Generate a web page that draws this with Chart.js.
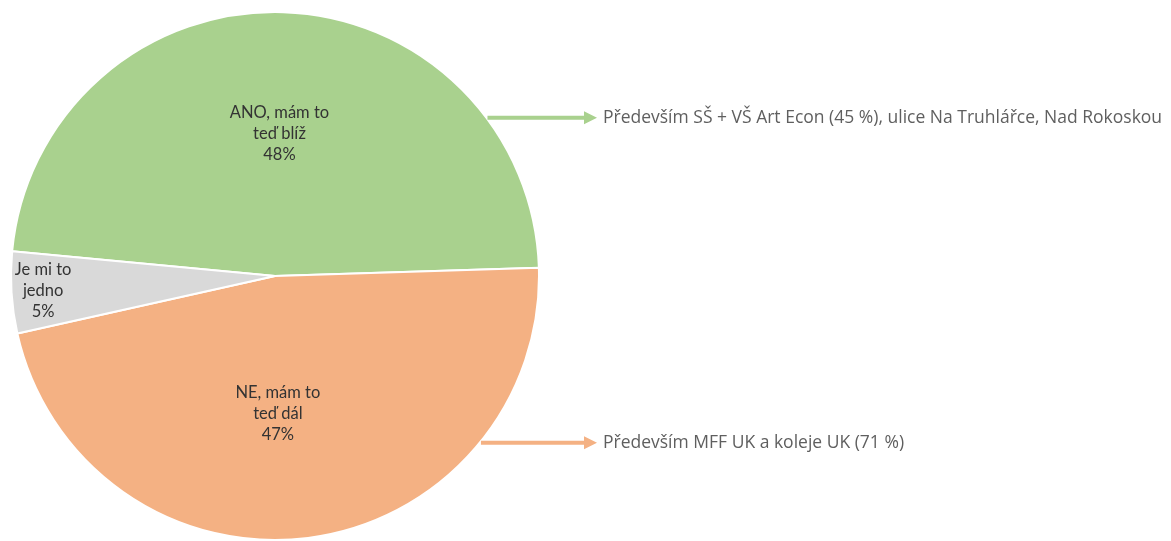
<!DOCTYPE html>
<html>
<head>
<meta charset="utf-8">
<script src="https://cdn.jsdelivr.net/npm/chart.js@4.4.0/dist/chart.umd.min.js"></script>
<style>
  body { margin: 0; background: #fff; }
  #wrap { width: 1171px; height: 541px; }
</style>
</head>
<body>
<div id="wrap"><canvas id="pieChart"></canvas></div>
<script>
  // answers and their shares
  var sliceLabels = [["ANO, mám to", "teď blíž"], ["NE, mám to", "teď dál"], ["Je mi to", "jedno"]];
  var sliceValues = [48, 47, 5];
  var sliceColors = ["#a9d18e", "#f4b183", "#d9d9d9"];

  // notes pointing out of the two big slices
  var noteTexts = [
    "Především SŠ + VŠ Art Econ (45 %), ulice Na Truhlářce, Nad Rokoskou",
    "Především MFF UK a koleje UK (71 %)",
    null
  ];

  // draws the text inside each slice
  var sliceText = {
    id: 'sliceText',
    afterDatasetsDraw: function (chart, args, opts) {
      var ctx = chart.ctx;
      var meta = chart.getDatasetMeta(0);
      ctx.save();
      ctx.font = opts.font;
      ctx.fillStyle = opts.color;
      ctx.textAlign = 'center';
      ctx.textBaseline = 'middle';
      meta.data.forEach(function (arc, i) {
        var p = arc.getProps(['x', 'y', 'startAngle', 'endAngle', 'outerRadius'], true);
        var mid = (p.startAngle + p.endAngle) / 2 + (opts.angleShift[i] || 0) * Math.PI / 180;
        var r = p.outerRadius * opts.radius[i];
        var cx = p.x + Math.cos(mid) * r;
        var cy = p.y + Math.sin(mid) * r;
        var lines = sliceLabels[i].concat([sliceValues[i] + '%']);
        var top = cy - (lines.length - 1) * opts.lineHeight / 2;
        lines.forEach(function (t, k) {
          ctx.fillText(t, cx, top + k * opts.lineHeight);
        });
      });
      ctx.restore();
    }
  };

  // arrows from the slice edge to the notes on the right
  var sliceNotes = {
    id: 'sliceNotes',
    afterDatasetsDraw: function (chart, args, opts) {
      var ctx = chart.ctx;
      var meta = chart.getDatasetMeta(0);
      ctx.save();
      meta.data.forEach(function (arc, i) {
        if (!noteTexts[i]) return;
        var p = arc.getProps(['x', 'y', 'outerRadius'], true);
        var a = opts.anchorAngle[i] * Math.PI / 180;
        var x0 = p.x + Math.cos(a) * (p.outerRadius + 1);
        var y0 = p.y + Math.sin(a) * (p.outerRadius + 1);
        var x1 = opts.endX;
        ctx.strokeStyle = sliceColors[i];
        ctx.fillStyle = sliceColors[i];
        ctx.lineWidth = 4;
        ctx.beginPath();
        ctx.moveTo(x0, y0);
        ctx.lineTo(x1 - 10, y0);
        ctx.stroke();
        ctx.beginPath();
        ctx.moveTo(x1, y0);
        ctx.lineTo(x1 - 13, y0 - 6.5);
        ctx.lineTo(x1 - 13, y0 + 6.5);
        ctx.closePath();
        ctx.fill();

        ctx.font = opts.font;
        ctx.fillStyle = opts.color;
        ctx.textAlign = 'left';
        ctx.textBaseline = 'middle';
        ctx.fillText(noteTexts[i], x1 + 6, y0);
      });
      ctx.restore();
    }
  };

  var ctx = document.getElementById('pieChart');
  var chart = new Chart(ctx, {
    type: 'pie',
    data: {
      labels: sliceLabels.map(function (l) { return l.join(' '); }),
      datasets: [{
        data: sliceValues,
        backgroundColor: sliceColors,
        borderColor: '#ffffff',
        borderWidth: 2
      }]
    },
    options: {
      responsive: true,
      maintainAspectRatio: false,
      animation: false,
      rotation: -84.6,
      layout: { padding: { left: 10, top: 11, bottom: 0, right: 631 } },
      plugins: {
        legend: { display: false },
        tooltip: { enabled: false },
        sliceText: {
          font: '16.5px Lato',
          color: '#333333',
          lineHeight: 21,
          radius: [0.54, 0.52, 0.88],
          angleShift: [0, 6, 0]
        },
        sliceNotes: {
          anchorAngle: [-36.7, 39],
          endX: 597,
          font: '17.5px "Open Sans"',
          color: '#5f5f5f'
        }
      }
    },
    plugins: [sliceText, sliceNotes]
  });
</script>
</body>
</html>
